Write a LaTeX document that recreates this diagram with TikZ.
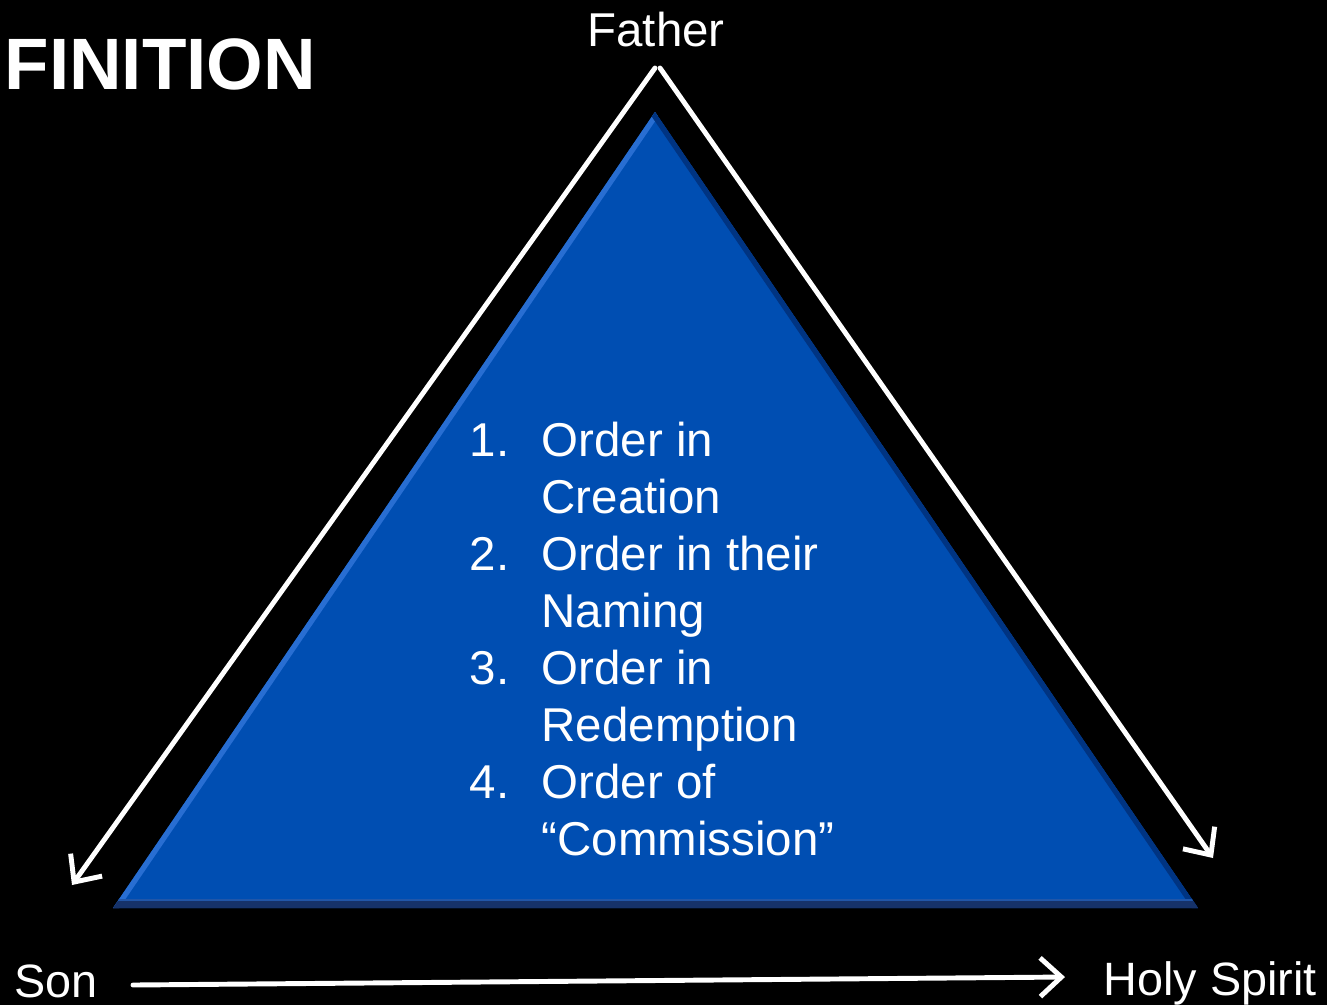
\documentclass[tikz,border=0pt]{standalone}
\usepackage{fontspec}
\setmainfont{Liberation Sans}
\usetikzlibrary{arrows.meta, positioning}
\definecolor{TriBlue}{RGB}{0,78,178}
\definecolor{TriLight}{RGB}{40,110,210}
\definecolor{TriDark}{RGB}{0,52,130}
\definecolor{TriBase}{RGB}{22,50,105}

\begin{document}
\begin{tikzpicture}[x=0.01cm, y=-0.01cm,
  lbl/.style={text=white, inner sep=0pt, font=\fontsize{13.3}{15}\selectfont},
  item/.style={text=white, inner sep=0pt, anchor=base west,
               font=\fontsize{13.5}{16}\selectfont},
  flow/.style={draw=white, line width=1.4pt, line cap=round,
               -{Straight Barb[length=6pt, width=11pt, line width=1.4pt]}}
]
% page and background
\fill[black] (0,0) rectangle (1327,1005);
\useasboundingbox (0,0) rectangle (1327,1005);

% title fragment
\node[text=white, inner sep=0pt, anchor=base west,
      font=\fontsize{20.7}{22}\selectfont\bfseries] (title) at (4,89) {FINITION};

% blue triangle with bevelled edges
\coordinate (apex) at (655,112);
\coordinate (bl) at (113,908);
\coordinate (br) at (1198,908);
\fill[TriBlue] (apex) -- (bl) -- (br) -- cycle;
\begin{scope}
  \clip (apex) -- (bl) -- (br) -- cycle;
  \draw[TriLight, line width=3pt] (apex) -- (bl);
  \draw[TriDark, line width=3pt] (apex) -- (br);
  \draw[TriBase, line width=4pt] (bl) -- (br);
  \draw[TriLight!60!TriBase, line width=0.6pt] (100,900) -- (1210,900);
\end{scope}

% persons
\node[lbl, font=\fontsize{13.5}{15}\selectfont] (father) at (656,30) {Father};
\node[lbl, anchor=base west] (son) at (14,997) {Son};
\node[lbl, anchor=base west] (spirit) at (1103,995) {Holy Spirit};

% arrow ends
\coordinate (fL) at (655,68);
\coordinate (fR) at (660,68);
\coordinate (toSon) at (72,885);
\coordinate (toSpirit) at (1213,858);
\coordinate (sonR) at (133,985);
\coordinate (spiritL) at (1065,977);

\draw[flow] (fL) -- (toSon);
\draw[flow] (fR) -- (toSpirit);
\draw[flow] (sonR) -- (spiritL);

% numbered list inside the triangle
\foreach \n/\a/\b [count=\i from 0] in {1/Order in/Creation,
    2/Order in their/Naming, 3/Order in/Redemption, 4/Order of/“Commission”}{
  \node[item] (num\n) at (469,456+\i*114) {\n.};
  \node[item] (first\n) at (541,456+\i*114) {\a};
  \node[item] (second\n) at (541,513+\i*114) {\b};
}
\end{tikzpicture}
\end{document}
